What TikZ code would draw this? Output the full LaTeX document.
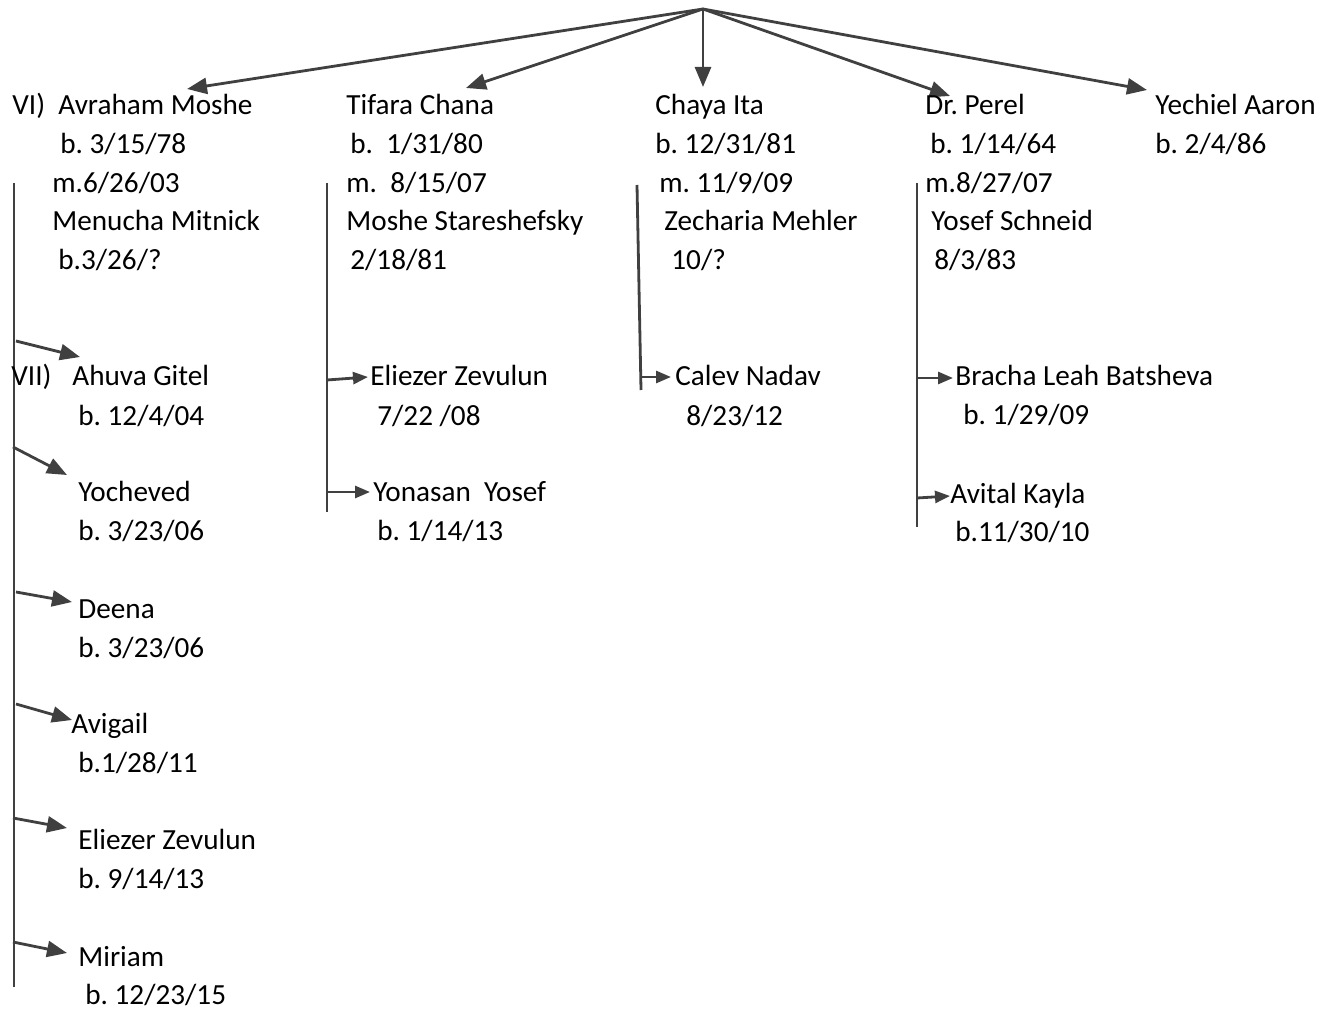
\documentclass[tikz,border=0pt]{standalone}
\usepackage{fontspec}
\setmainfont{Carlito}
\usetikzlibrary{arrows.meta}
\definecolor{ink}{HTML}{404040}
\frenchspacing
\tikzset{
  txt/.style={anchor=base west, inner sep=0pt, text=black, font=\fontsize{14.6}{17}\selectfont},
  trunk/.style={draw=ink, line width=1.4pt},
  bigarrow/.style={draw=ink, line width=1.4pt, -{Triangle[length=10pt,width=8pt]}},
  smallarrow/.style={draw=ink, line width=1.4pt, -{Triangle[length=7.5pt,width=6pt]}},
}
\begin{document}
\begin{tikzpicture}[x=0.5pt,y=-0.5pt]
\useasboundingbox (0,0) rectangle (1322,1010);

% ---- junction points of the connectors ----
\coordinate (apex) at (703,9);
\coordinate (tipA) at (187,89);
\coordinate (tipT) at (466,88);
\coordinate (tipC) at (703,87);
\coordinate (tipP) at (950,96);
\coordinate (tipY) at (1147,90);

\coordinate (c1top) at (14,183);  \coordinate (c1bot) at (14,987);
\coordinate (c2top) at (327,183); \coordinate (c2bot) at (327,512);
\coordinate (c3top) at (637,185); \coordinate (c3bot) at (641,390);
\coordinate (c4top) at (917,183); \coordinate (c4bot) at (917,527);

% branch points on the vertical lines
\coordinate (b11) at (16,341);  \coordinate (e11) at (80,357);
\coordinate (b12) at (13,447);  \coordinate (e12) at (67,475);
\coordinate (b13) at (16,592);  \coordinate (e13) at (72,602);
\coordinate (b14) at (16,704);  \coordinate (e14) at (72,720);
\coordinate (b15) at (13,818);  \coordinate (e15) at (67,828);
\coordinate (b16) at (13,942);  \coordinate (e16) at (67,953);
\coordinate (b21) at (327,380); \coordinate (e21) at (368,377);
\coordinate (b22) at (327,492); \coordinate (e22) at (370,492);
\coordinate (b31) at (640,377); \coordinate (e31) at (671,377);
\coordinate (b41) at (917,378); \coordinate (e41) at (953,378);
\coordinate (b42) at (917,498); \coordinate (e42) at (950,496);

% ---- generation VI: arrows from the top ----
\draw[bigarrow] (apex) -- (tipA);
\draw[bigarrow] (apex) -- (tipT);
\draw[bigarrow] (apex) -- (tipC);
\draw[bigarrow] (apex) -- (tipP);
\draw[bigarrow] (apex) -- (tipY);

% ---- vertical family lines ----
\draw[trunk] (c1top) -- (c1bot);
\draw[trunk] (c2top) -- (c2bot);
\draw[trunk] (c3top) -- (c3bot);
\draw[trunk] (c4top) -- (c4bot);

% ---- child arrows ----
\draw[bigarrow] (b11) -- (e11);
\draw[bigarrow] (b12) -- (e12);
\draw[bigarrow] (b13) -- (e13);
\draw[bigarrow] (b14) -- (e14);
\draw[bigarrow] (b15) -- (e15);
\draw[bigarrow] (b16) -- (e16);
\draw[smallarrow] (b21) -- (e21);
\draw[smallarrow] (b22) -- (e22);
\draw[smallarrow] (b31) -- (e31);
\draw[smallarrow] (b41) -- (e41);
\draw[smallarrow] (b42) -- (e42);

% ---- column 1 ----
\node[txt] (vi) at (12,115) {VI)};
\node[txt] (avraham) at (58,115) {Avraham Moshe};
\node[txt] (avrahamb) at (60,154) {b. 3/15/78};
\node[txt] (avrahamm) at (52,193) {m.6/26/03};
\node[txt] (menucha) at (52,231) {Menucha Mitnick};
\node[txt] (menuchab) at (58,270) {b.3/26/?};

\node[txt] (vii) at (11,386) {VII)};
\node[txt] (ahuva) at (72,386) {Ahuva Gitel};
\node[txt] (ahuvab) at (78,425) {b. 12/4/04};
\node[txt] (yocheved) at (78,502) {Yocheved};
\node[txt] (yochevedb) at (78,540) {b. 3/23/06};
\node[txt] (deena) at (78,618) {Deena};
\node[txt] (deenab) at (78,657) {b. 3/23/06};
\node[txt] (avigail) at (71,733) {Avigail};
\node[txt] (avigailb) at (78,772) {b.1/28/11};
\node[txt] (eliezerA) at (78,849) {Eliezer Zevulun};
\node[txt] (eliezerAb) at (78,888) {b. 9/14/13};
\node[txt] (miriam) at (78,966) {Miriam};
\node[txt] (miriamb) at (85,1004) {b. 12/23/15};

% ---- column 2 ----
\node[txt] (tifara) at (346,115) {Tifara Chana};
\node[txt] (tifarab) at (350,154) {b.\ \ 1/31/80};
\node[txt] (tifaram) at (346,193) {m.\ \ 8/15/07};
\node[txt] (moshe) at (346,231) {Moshe Stareshefsky};
\node[txt] (mosheb) at (350,270) {2/18/81};
\node[txt] (eliezerB) at (370,386) {Eliezer Zevulun};
\node[txt] (eliezerBb) at (377,425) {7/22 /08};
\node[txt] (yonasan) at (373,502) {Yonasan\ \ Yosef};
\node[txt] (yonasanb) at (377,540) {b. 1/14/13};

% ---- column 3 ----
\node[txt] (chaya) at (655,115) {Chaya Ita};
\node[txt] (chayab) at (655,154) {b. 12/31/81};
\node[txt] (chayam) at (659,193) {m. 11/9/09};
\node[txt] (zecharia) at (664,231) {Zecharia Mehler};
\node[txt] (zechariab) at (671,270) {10/?};
\node[txt] (calev) at (675,386) {Calev Nadav};
\node[txt] (calevb) at (686,425) {8/23/12};

% ---- column 4 ----
\node[txt] (perel) at (925,115) {Dr. Perel};
\node[txt] (perelb) at (930,154) {b. 1/14/64};
\node[txt] (perelm) at (925,193) {m.8/27/07};
\node[txt] (yosef) at (931,231) {Yosef Schneid};
\node[txt] (yosefb) at (934,270) {8/3/83};
\node[txt] (bracha) at (955,386) {Bracha Leah Batsheva};
\node[txt] (brachab) at (963,424) {b. 1/29/09};
\node[txt] (avital) at (950,503) {Avital Kayla};
\node[txt] (avitalb) at (955,541) {b.11/30/10};

% ---- column 5 ----
\node[txt] (yechiel) at (1155,115) {Yechiel Aaron};
\node[txt] (yechielb) at (1155,154) {b. 2/4/86};
\end{tikzpicture}
\end{document}
